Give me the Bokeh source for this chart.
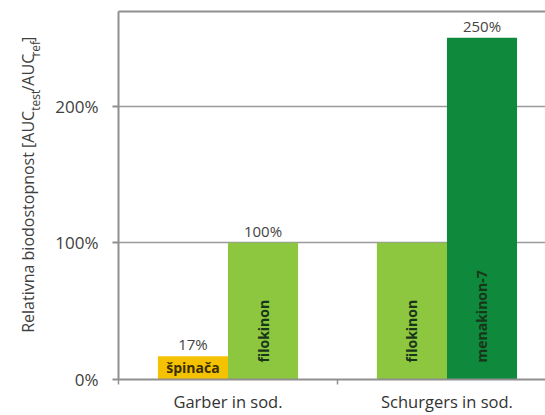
import math
from bokeh.plotting import figure
from bokeh.layouts import row
from bokeh.models import (Range1d, FixedTicker, NumeralTickFormatter,
                          LinearAxis, ColumnDataSource)
from bokeh.core.properties import value
from bokeh.embed import file_html
from bokeh.resources import INLINE

# ---- data ----
groups = ["Garber in sod.", "Schurgers in sod."]
bar_group = [0, 0, 1, 1]
bar_slot = [0, 1, 0, 1]
bar_names = ["špinača", "filokinon", "filokinon", "menakinon-7"]
bar_values = [0.17, 1.00, 1.00, 2.50]
value_labels = ["17%", "100%", "", "250%"]
y_ticks = [0, 1, 2]
y_title_main = "Relativna biodostopnost [AUC"
y_title_tail = ["test", "/AUC", "ref", "]"]
y_title_tail_sub = [True, False, True, False]

# ---- style ----
bar_colors = ["#F4C200", "#8DC63F", "#8DC63F", "#0F8A3D"]
FONT = "Open Sans"
GRAY = "#8f8f8f"
BAR_W = 0.32
TITLE_W = 50
H = 415

xs = [g + 0.5 + (s - 0.5) * BAR_W for g, s in zip(bar_group, bar_slot)]
src = ColumnDataSource(dict(x=xs, top=bar_values, color=bar_colors,
                            name=bar_names, vlabel=value_labels))

p = figure(width=545 - TITLE_W, height=H, x_range=Range1d(0, 1.95),
           y_range=Range1d(0, 2.693), output_backend="svg", title=None,
           toolbar_location=None, min_border_left=118 - TITLE_W,
           min_border_right=0, min_border_top=11, min_border_bottom=35)
p.outline_line_color = None
p.background_fill_color = "white"

# grid
p.xgrid.visible = False
p.ygrid.ticker = FixedTicker(ticks=y_ticks)
p.ygrid.grid_line_color = "#9a9a9a"
p.ygrid.grid_line_width = 1.5

# top frame line as a bare axis
top_axis = LinearAxis(ticker=FixedTicker(ticks=[]), axis_line_color=GRAY,
                      axis_line_width=2, major_tick_out=0, major_tick_in=0,
                      minor_tick_out=0, minor_tick_in=0,
                      major_label_standoff=0,
                      major_label_text_font_size="0px")
p.add_layout(top_axis, "above")

# bars
p.vbar(x="x", top="top", bottom=0, width=BAR_W, color="color",
       line_color=None, source=src)

# names inside bars
tall = [i for i, v in enumerate(bar_values) if v >= 0.5]
short = [i for i, v in enumerate(bar_values) if v < 0.5]
tall_src = ColumnDataSource(dict(x=[xs[i] for i in tall], y=[0] * len(tall),
                                 t=[bar_names[i] for i in tall]))
short_src = ColumnDataSource(dict(x=[xs[i] for i in short],
                                  y=[bar_values[i] / 2 for i in short],
                                  t=[bar_names[i] for i in short]))
p.text(x="x", y="y", text="t", source=tall_src, angle=math.pi / 2,
       text_align="left", text_baseline="middle", y_offset=-17,
       text_font=value(FONT), text_font_size="14px",
       text_font_style="bold", text_color="#17361a")
p.text(x="x", y="y", text="t", source=short_src, text_align="center",
       text_baseline="middle", text_font=value(FONT),
       text_font_size="14px", text_font_style="bold", text_color="#3a2e00")

# value labels
p.text(x="x", y="top", text="vlabel", source=src, text_align="center",
       text_baseline="alphabetic", y_offset=-12, text_font=value(FONT),
       text_font_size="15px", text_color="#444444")

# y axis
ya = p.left[0]
ya.ticker = FixedTicker(ticks=y_ticks)
ya.formatter = NumeralTickFormatter(format="0%")
ya.axis_line_color = GRAY
ya.axis_line_width = 2
ya.major_tick_line_color = GRAY
ya.major_tick_line_width = 2
ya.major_tick_out = 6
ya.major_tick_in = 0
ya.minor_tick_line_color = None
ya.major_label_standoff = 14
ya.major_label_text_font = FONT
ya.major_label_text_font_size = "17px"
ya.major_label_text_color = "#404040"

# x axis with category labels
xa = p.below[0]
xa.ticker = FixedTicker(ticks=[g + 0.5 for g in range(len(groups))],
                        minor_ticks=list(range(len(groups) + 1)))
xa.major_label_overrides = {g + 0.5: name for g, name in enumerate(groups)}
xa.major_label_text_font = FONT
xa.major_label_text_font_size = "16.5px"
xa.major_label_text_color = "#333333"
xa.major_label_standoff = 5
xa.major_tick_line_color = None
xa.major_tick_out = 0
xa.major_tick_in = 0
xa.axis_line_color = GRAY
xa.axis_line_width = 2
xa.minor_tick_line_color = GRAY
xa.minor_tick_line_width = 1.5
xa.minor_tick_out = 5
xa.minor_tick_in = 0

# ---- y axis title with subscripts, in its own narrow panel ----
t = figure(width=TITLE_W, height=H, x_range=Range1d(0, TITLE_W),
           y_range=Range1d(0, H), output_backend="svg", title=None,
           toolbar_location=None, x_axis_location=None,
           y_axis_location=None, min_border=0)
t.outline_line_color = None
t.grid.visible = False

MAIN_PX, SUB_PX = 16.0, 12.0
MAIN_X, SUB_X = 27, 35          # baselines (panel px)
JOIN_Y = H - 112                # where the main part ends
tail_ems = [1.744, 2.369, 1.308, 0.30]
tx, ty, tt, ts = [MAIN_X], [JOIN_Y], [y_title_main], [f"{MAIN_PX}px"]
pos = JOIN_Y
for part, sub, em in zip(y_title_tail, y_title_tail_sub, tail_ems):
    size = SUB_PX if sub else MAIN_PX
    tx.append(SUB_X if sub else MAIN_X)
    ty.append(pos)
    tt.append(part)
    ts.append(f"{size}px")
    pos += em * size * 1.04
main_src = ColumnDataSource(dict(x=tx[:1], y=ty[:1], t=tt[:1], s=ts[:1]))
tail_src = ColumnDataSource(dict(x=tx[1:], y=ty[1:], t=tt[1:], s=ts[1:]))
t.text(x="x", y="y", text="t", text_font_size="s", source=main_src,
       angle=math.pi / 2, text_align="right", text_baseline="alphabetic",
       text_font=value(FONT), text_color="#404040")
t.text(x="x", y="y", text="t", text_font_size="s", source=tail_src,
       angle=math.pi / 2, text_align="left", text_baseline="alphabetic",
       text_font=value(FONT), text_color="#404040")

layout = row(t, p, spacing=0)
open("out.html", "w").write(file_html(layout, INLINE))
